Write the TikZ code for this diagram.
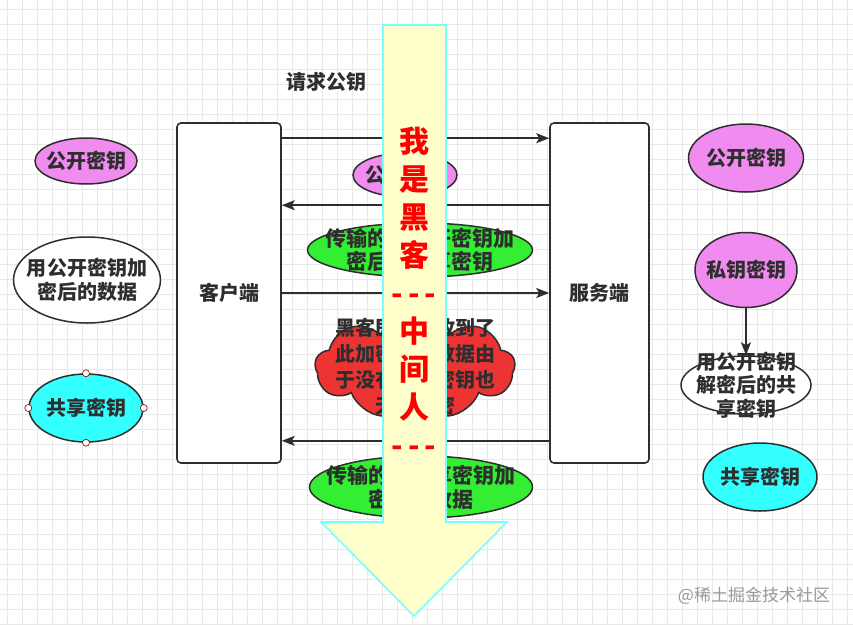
\documentclass[tikz,border=0pt]{standalone}
\usepackage{fontspec}
\setmainfont{Noto Sans CJK SC}
\usetikzlibrary{shapes.geometric, shapes.symbols, arrows.meta}
\definecolor{keypink}{HTML}{F08CF0}
\definecolor{keygreen}{HTML}{33EE33}
\definecolor{keycyan}{HTML}{33FFFF}
\definecolor{cloudred}{HTML}{EE3333}
\definecolor{mitmfill}{HTML}{FFFFCC}
\definecolor{mitmline}{HTML}{77FFFF}
\definecolor{ink}{HTML}{2E2E2E}
\tikzset{
  txt/.style={font=\fontsize{20}{24}\selectfont\bfseries, text=ink, align=center, inner sep=0pt},
  keyw/.style={ellipse, draw=ink, line width=1.5pt, inner sep=0pt},
  party/.style={rectangle, rounded corners=4pt, draw=ink, line width=1.6pt, fill=white, txt},
  flow/.style={draw=ink, line width=1.5pt, -{Stealth[length=13pt, width=10pt, inset=3pt]}},
  handle/.style={circle, draw=red!55!black, fill=white, inner sep=0pt, minimum size=7pt, line width=0.6pt}
}
\begin{document}
\begin{tikzpicture}[x=1pt, y=-1pt]
  \useasboundingbox (0,0) rectangle (853,624);
  \fill[white] (0,0) rectangle (853,624);
  \foreach \gx in {7, 22, ..., 853}
    \draw[black!9, line width=0.8pt] (\gx, 0) -- (\gx, 624);
  \foreach \gy in {9, 24, ..., 624}
    \draw[black!9, line width=0.8pt] (0, \gy) -- (853, \gy);

  % left side
  \node[keyw, fill=keypink, minimum width=102, minimum height=46, label={[txt]center:公开密钥}] (pubL) at (86, 161) {};
  \node[keyw, fill=white, minimum width=147, minimum height=86, label={[txt]center:用公开密钥加\\密后的数据}] (encL) at (87, 280) {};
  \node[keyw, fill=keycyan, minimum width=114, minimum height=68, label={[txt]center:共享密钥}] (shareL) at (86, 408) {};
  \foreach \a in {north, south, east, west}
    \node[handle] at (shareL.\a) {};

  % client / server
  \node[party, minimum width=104, minimum height=340] (client) at (229, 293) {客户端};
  \node[party, minimum width=99, minimum height=340] (server) at (599.5, 293) {服务端};
  \node[txt] (req) at (326, 82) {请求公钥};
  \draw[flow] ([yshift=-16pt]client.north east) -- ([yshift=-16pt]server.north west);
  \draw[flow] ([yshift=-83pt]server.north west) -- ([yshift=-83pt]client.north east);
  \draw[flow] (client.east) -- (server.west);
  \draw[flow] ([yshift=23pt]server.south west) -- ([yshift=23pt]client.south east);

  \node[keyw, fill=keypink, minimum width=104, minimum height=44, label={[txt]center:公开密钥}] (pubM) at (405, 175) {};
  \node[keyw, fill=keygreen, minimum width=225, minimum height=54, label={[txt, font=\fontsize{21}{23}\selectfont\bfseries]center:传输的用公开密钥加\\密后的共享密钥}] (encshare) at (420, 250) {};
  \node[cloud, cloud puffs=9, cloud puff arc=125, aspect=2, draw=ink, line width=1.5pt, fill=cloudred, minimum width=200, minimum height=104, inner sep=0pt,
        label={[txt, font=\fontsize{20}{26}\selectfont\bfseries]center:黑客即使接收到了\\此加密后的数据由\\于没有私钥密钥也\\无法解密}] (hacker) at (415, 367) {};
  \node[keyw, fill=keygreen, minimum width=223, minimum height=62, label={[txt, font=\fontsize{21}{24}\selectfont\bfseries]center:传输的用共享密钥加\\密后的数据}] (encdata) at (421, 487) {};

  % right side
  \node[keyw, fill=keypink, minimum width=115, minimum height=68, label={[txt]center:公开密钥}] (pubR) at (746, 158) {};
  \node[keyw, fill=keypink, minimum width=102, minimum height=75, label={[txt]center:私钥密钥}] (priv) at (746, 270) {};
  \node[keyw, fill=white, minimum width=130, minimum height=58] (decr) at (746, 385) {};
  \node[txt, font=\fontsize{20}{23.5}\selectfont\bfseries] (decrtext) at (decr) {用公开密钥\\解密后的共\\享密钥};
  \node[keyw, fill=keycyan, minimum width=114, minimum height=68, label={[txt]center:共享密钥}] (shareR) at (760, 477) {};
  \draw[flow] (priv) -- (decr);

  % man in the middle
  \draw[draw=mitmline, fill=mitmfill, line width=1.6pt, line join=miter]
    (383, 25) -- (446, 25) -- (446, 522) -- (507, 522) -- (414, 616) -- (321, 522) -- (383, 522) -- cycle;
  \node[font=\fontsize{30}{38}\selectfont\bfseries, text=red, align=center] (mitm) at (414, 292)
    {我\\是\\黑\\客\\-\,-\,-\\中\\间\\人\\-\,-\,-};

  \node[font=\fontsize{17}{20}\selectfont, text=black!40] (mark) at (754, 596) {@稀土掘金技术社区};
\end{tikzpicture}
\end{document}
